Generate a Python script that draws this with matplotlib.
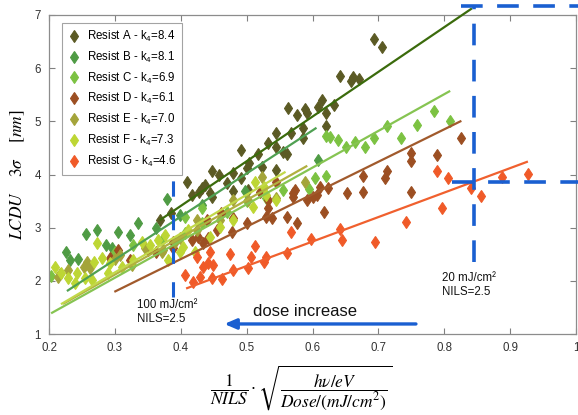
import matplotlib
matplotlib.use("Agg")
import matplotlib.pyplot as plt
import numpy as np

plt.rcParams['font.family'] = ['Liberation Sans', 'DejaVu Sans']
plt.rcParams['mathtext.fontset'] = 'custom'
plt.rcParams['mathtext.rm'] = 'Liberation Sans'
plt.rcParams['mathtext.it'] = 'Liberation Sans:italic'

# ---- data -------------------------------------------------------------
names = ["Resist A", "Resist B", "Resist C", "Resist D", "Resist E", "Resist F", "Resist G"]
k4 = [8.4, 8.1, 6.9, 6.1, 7.0, 7.3, 4.6]
fit_b = [0.05, -0.03, -0.01, -0.03, 0.02, -0.03, -0.02]
fit_lo = [0.368, 0.227, 0.203, 0.299, 0.221, 0.218, 0.408]
fit_hi = [0.842, 0.606, 0.809, 0.826, 0.592, 0.559, 0.927]

a_x = [0.368, 0.385, 0.409, 0.417, 0.427, 0.432, 0.436, 0.444, 0.447, 0.448, 0.458, 0.470, 0.479, 0.479, 0.491,
       0.492, 0.500, 0.502, 0.503, 0.517, 0.523, 0.532, 0.544, 0.544, 0.545, 0.555, 0.561, 0.562, 0.568, 0.577,
       0.585, 0.585, 0.589, 0.592, 0.609, 0.615, 0.620, 0.620, 0.633, 0.642, 0.659, 0.662, 0.670, 0.694, 0.706]
a_y = [3.15, 3.28, 3.86, 3.61, 3.67, 3.74, 3.80, 3.65, 4.06, 3.58, 3.99, 3.84, 4.03, 3.69, 4.46,
       3.93, 4.12, 3.71, 4.21, 4.38, 4.14, 4.59, 4.52, 4.08, 4.78, 4.42, 4.38, 5.25, 4.78, 5.12,
       4.87, 4.68, 5.23, 5.15, 5.27, 5.40, 5.15, 4.91, 5.30, 5.85, 5.76, 5.83, 5.79, 6.55, 6.39]
b_x = [0.226, 0.232, 0.244, 0.256, 0.273, 0.286, 0.296, 0.304, 0.323, 0.335, 0.363, 0.379, 0.398, 0.432, 0.497, 0.608]
b_y = [2.54, 2.39, 2.41, 2.88, 2.95, 2.67, 2.62, 2.92, 2.86, 3.08, 2.99, 3.54, 3.24, 3.42, 3.69, 4.27]
c_x = [0.203, 0.300, 0.327, 0.371, 0.406, 0.406, 0.432, 0.432, 0.470, 0.500, 0.530, 0.555, 0.594, 0.603, 0.621,
       0.620, 0.627, 0.639, 0.651, 0.664, 0.679, 0.694, 0.713, 0.735, 0.759, 0.785, 0.809]
c_y = [2.10, 2.54, 2.67, 2.77, 2.90, 3.20, 3.09, 3.37, 3.30, 3.50, 3.55, 3.71, 3.72, 3.93, 3.97,
       4.72, 4.70, 4.65, 4.52, 4.61, 4.51, 4.69, 4.91, 4.69, 4.93, 5.19, 5.00]
d_x = [0.292, 0.305, 0.323, 0.350, 0.363, 0.388, 0.388, 0.417, 0.426, 0.433, 0.439, 0.441, 0.455, 0.461, 0.477,
       0.479, 0.500, 0.520, 0.530, 0.532, 0.532, 0.538, 0.545, 0.561, 0.570, 0.571, 0.573, 0.577, 0.592, 0.600,
       0.606, 0.611, 0.618, 0.623, 0.652, 0.677, 0.676, 0.710, 0.713, 0.750, 0.750, 0.750, 0.789, 0.826]
d_y = [2.43, 2.58, 2.39, 2.58, 2.54, 2.62, 2.73, 2.77, 2.82, 2.71, 3.14, 2.80, 2.95, 3.27, 2.92,
       3.18, 3.09, 3.67, 3.20, 3.52, 3.37, 3.18, 3.86, 3.20, 3.58, 3.65, 3.71, 3.09, 3.52, 3.58,
       3.61, 3.77, 3.29, 3.74, 3.65, 3.67, 3.97, 3.93, 4.07, 3.67, 4.26, 4.40, 4.36, 4.68]
e_x = [0.214, 0.217, 0.229, 0.253, 0.258, 0.262, 0.300, 0.308, 0.326, 0.345, 0.371, 0.373, 0.391, 0.398, 0.424,
       0.424, 0.459, 0.479, 0.502, 0.523, 0.545, 0.588]
e_y = [2.07, 2.13, 2.20, 2.26, 2.35, 2.24, 2.42, 2.48, 2.30, 2.62, 2.54, 2.58, 2.73, 2.80, 2.95,
       3.14, 3.14, 3.52, 3.52, 3.95, 3.56, 3.86]
f_x = [0.209, 0.218, 0.229, 0.239, 0.242, 0.255, 0.265, 0.268, 0.273, 0.280, 0.289, 0.292, 0.311, 0.327, 0.341,
       0.353, 0.365, 0.376, 0.380, 0.398, 0.403, 0.411, 0.421, 0.444, 0.459, 0.479, 0.509, 0.512, 0.527, 0.530, 0.545]
f_y = [2.26, 2.15, 2.05, 1.96, 2.15, 2.05, 2.01, 2.35, 2.71, 2.43, 2.15, 2.33, 2.26, 2.39, 2.73,
       2.67, 2.77, 2.86, 2.39, 2.54, 2.64, 2.95, 2.54, 2.82, 3.01, 3.14, 3.39, 3.86, 3.76, 3.61, 3.52]
g_x = [0.406, 0.418, 0.424, 0.429, 0.433, 0.441, 0.444, 0.447, 0.449, 0.462, 0.474, 0.479, 0.502, 0.507, 0.512,
       0.527, 0.530, 0.561, 0.568, 0.597, 0.642, 0.644, 0.695, 0.742, 0.789, 0.797, 0.806, 0.841, 0.856, 0.888, 0.927]
g_y = [2.11, 1.98, 2.45, 2.07, 2.26, 2.33, 2.54, 2.05, 2.30, 2.03, 2.50, 2.20, 2.24, 2.45, 2.65,
       2.35, 2.45, 2.52, 2.92, 2.79, 2.97, 2.77, 2.73, 3.11, 4.06, 3.37, 3.93, 3.74, 3.59, 3.95, 4.01]

xs = [a_x, b_x, c_x, d_x, e_x, f_x, g_x]
ys = [a_y, b_y, c_y, d_y, e_y, f_y, g_y]

marker_colors = ["#5b5a24", "#4f9b44", "#7cc242", "#9c4f22", "#a4a43a", "#bdd634", "#f05a28"]
line_colors = ["#3b6b0c", "#4fa052", "#86c452", "#a15a2c", "#b1b040", "#c2d84a", "#f0602e"]

# exposure reference positions (x = 1/NILS * sqrt(hv/dose))
x_100mj = 0.388
x_20mj = 0.845
xticks = [0.2, 0.3, 0.4, 0.5, 0.6, 0.7, 0.8, 0.9, 1.0]
xtick_labels = ["0.2", "0.3", "0.4", "0.5", "0.6", "0.7", "0.8", "0.9", "1"]
yticks = [1, 2, 3, 4, 5, 6, 7]

# ---- figure -----------------------------------------------------------
fig = plt.figure(figsize=(5.78, 4.15), dpi=100)
ax = fig.add_axes([0.085, 0.195, 0.9115, 0.769])

for i in range(len(names)):
    ax.plot(xs[i], ys[i], linestyle='none', marker='d', markersize=6.6,
            markerfacecolor=marker_colors[i], markeredgecolor=marker_colors[i],
            markeredgewidth=0.8,
            label=f"{names[i]} - k$_4$={k4[i]:.1f}", zorder=2)

for i in range(len(names)):
    xl = np.array([fit_lo[i], fit_hi[i]])
    ax.plot(xl, k4[i] * xl + fit_b[i], color=line_colors[i], lw=1.6,
            zorder=3, clip_on=False, solid_capstyle='butt')

blue = "#1a5fd1"
# guides at 100 mJ/cm2 and 20 mJ/cm2
ax.plot([x_100mj, x_100mj], [1.70, 3.92], color=blue, lw=2.2,
        dashes=(5, 6), zorder=4)
y_top = k4[0] * x_20mj + fit_b[0] + 0.02
y_low = k4[6] * x_20mj + fit_b[6]
ax.plot([x_20mj, x_20mj], [2.35, y_top], color=blue, lw=2.6,
        dashes=(6, 4), zorder=4, clip_on=False)
ax.plot([0.826, 1.01], [y_top, y_top], color=blue, lw=2.6,
        dashes=(6, 4), zorder=4, clip_on=False)
ax.plot([0.812, 1.01], [y_low, y_low], color=blue, lw=2.6,
        dashes=(6, 4), zorder=4, clip_on=False)

ax.annotate("", xy=(0.466, 1.19), xytext=(0.757, 1.19),
            arrowprops=dict(arrowstyle='-|>,head_length=0.7,head_width=0.3',
                            color=blue, lw=2.4, shrinkA=0, shrinkB=0), zorder=5)
ax.text(0.509, 1.43, "dose increase", fontsize=12, color="#111111",
        ha='left', va='center')
ax.text(0.333, 1.66, "100 mJ/cm\u00b2\nNILS=2.5", fontsize=8.3, color="#111111",
        ha='left', va='top', linespacing=1.25)
ax.text(0.797, 2.17, "20 mJ/cm\u00b2\nNILS=2.5", fontsize=8.3, color="#111111",
        ha='left', va='top', linespacing=1.25)

ax.set_xlim(0.2, 1.0)
ax.set_ylim(1, 7)
ax.set_xticks(xticks)
ax.set_xticklabels(xtick_labels)
ax.set_yticks(yticks)
ax.tick_params(direction='in', length=4, width=0.8, colors="#808080",
               labelcolor="#333333", labelsize=8.3, top=True, right=True, pad=6)
for s in ax.spines.values():
    s.set_color("#8c8c8c")
    s.set_linewidth(0.9)

leg = ax.legend(loc='upper left', bbox_to_anchor=(0.025, 0.975), borderaxespad=0,
                fontsize=8.3, frameon=True, fancybox=False, edgecolor="#8c8c8c",
                handlelength=1.0, handletextpad=0.6, labelspacing=0.5,
                borderpad=0.5, numpoints=1)
leg.get_frame().set_linewidth(0.8)

ax.set_ylabel(r"$LCDU\ \ \ \ 3\sigma\ \ \ \ \mathrm{[}nm\mathrm{]}$", fontsize=12.5,
              math_fontfamily='stix', labelpad=5)
fig.text(0.521, 0.066,
         r"$\dfrac{1}{NILS}\cdot\sqrt{\dfrac{h\nu/eV}{Dose/(mJ/cm^{2})}}$",
         fontsize=12.5, math_fontfamily='stix', ha='center', va='center')

fig.savefig("out.png", dpi=100)
